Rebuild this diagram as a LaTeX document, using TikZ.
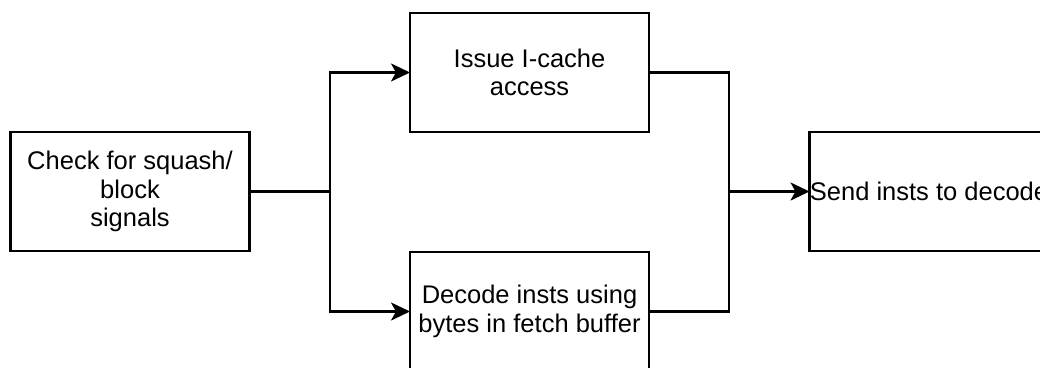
\documentclass[tikz,border=0pt]{standalone}
\usepackage{fontspec}
\setmainfont{Liberation Sans}
\usetikzlibrary{arrows.meta}
\begin{document}
\begin{tikzpicture}[x=1pt,y=-1pt,
  stage/.style={draw=black, line width=2.4pt, minimum width=239pt, minimum height=119pt,
    inner sep=0pt, outer sep=0pt, align=center, font=\fontsize{25.5}{28.5}\selectfont},
  flow/.style={line width=2.4pt},
  flowarrow/.style={flow, -{Stealth[length=19pt,width=18pt,inset=5pt]}}]
  \useasboundingbox (0,0) rectangle (1040,367);
  \clip (0,0) rectangle (1040,367);

  % pipeline stages
  \node[stage] (check)  at (130,191.5) {Check for squash/\\block\\signals};
  \node[stage] (icache) at (529.5,72.5) {Issue I-cache\\access};
  \node[stage] (decode) at (529.5,311.5) {Decode insts using\\bytes in fetch buffer};
  \node[stage] (send)   at (929,191.5) {Send insts to decode};

  % split and merge points
  \coordinate (split) at (330,191.5);
  \coordinate (merge) at (729,191.5);

  % fan out to the two parallel stages
  \draw[flow] (check.east) -- (split);
  \draw[flowarrow] (split) |- (icache.west);
  \draw[flowarrow] (split) |- (decode.west);

  % join back into the send stage
  \draw[flow] (icache.east) -| (merge);
  \draw[flow] (decode.east) -| (merge);
  \draw[flowarrow] (merge) -- (send.west);
\end{tikzpicture}
\end{document}
